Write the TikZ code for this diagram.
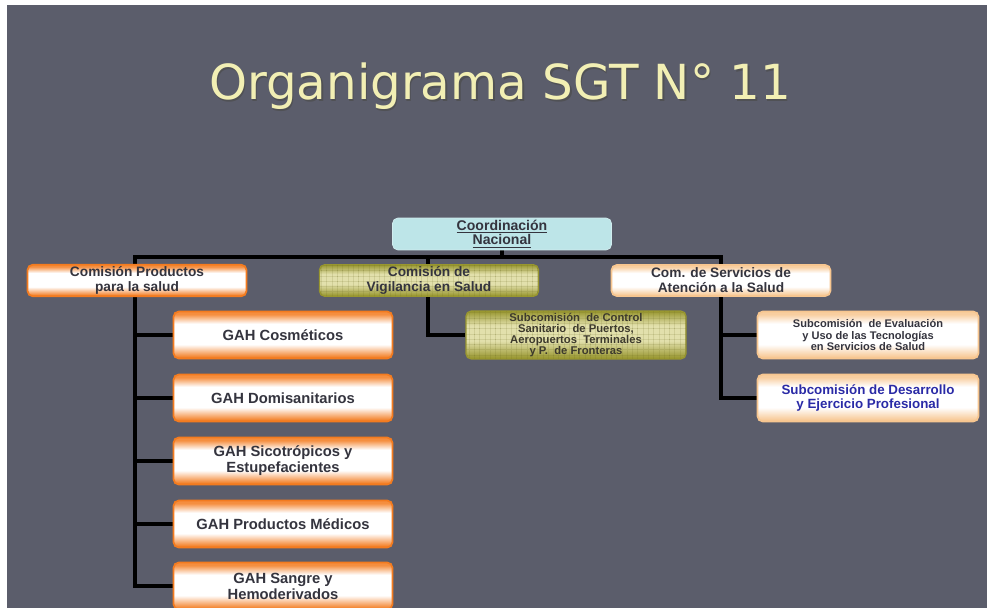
\documentclass[tikz,border=0pt]{standalone}
\usepackage{fontspec}
\setmainfont{Liberation Sans}
\newfontfamily\titlefont{DejaVu Sans}
\usepackage{xcolor}
\usetikzlibrary{positioning, calc, patterns}
\definecolor{slide}{HTML}{5B5D6B}
\definecolor{ttl}{HTML}{F2EFB4}
\definecolor{naranja}{HTML}{F37B1F}
\definecolor{durazno}{HTML}{F7C690}
\definecolor{oliva}{HTML}{999730}
\definecolor{olivaclaro}{HTML}{E2E0AC}
\definecolor{celeste}{HTML}{BDE5E8}
\definecolor{texto}{HTML}{34343E}
\definecolor{azul}{HTML}{2A2AA6}
\pgfdeclarelayer{fondo}
\pgfdeclarelayer{lineas}
\pgfsetlayers{fondo,lineas,main}
\pgfdeclareverticalshading{gah}{100bp}{color(0bp)=(naranja); color(26bp)=(naranja); color(40bp)=(white); color(62bp)=(white); color(72bp)=(naranja!85!white); color(100bp)=(naranja)}
\pgfdeclareverticalshading{peach}{100bp}{color(0bp)=(durazno); color(26bp)=(durazno); color(40bp)=(white); color(62bp)=(white); color(72bp)=(durazno!85!white); color(100bp)=(durazno)}
\pgfdeclareverticalshading{olive}{100bp}{color(0bp)=(oliva); color(26bp)=(oliva); color(44bp)=(olivaclaro); color(60bp)=(olivaclaro); color(75bp)=(oliva); color(100bp)=(oliva)}
\tikzset{
  caja/.style={rounded corners=3pt, align=center, inner sep=1pt, text=texto,
    minimum width=4.38cm, minimum height=0.62cm},
  comision/.style={caja, font=\bfseries\fontsize{7.8}{8.6}\selectfont},
  gahbox/.style={caja, shading=gah, draw=naranja, line width=1pt,
    minimum height=0.94cm, font=\bfseries\fontsize{8.4}{9.2}\selectfont},
  naranjo/.style={comision, shading=gah, draw=naranja, line width=1pt},
  palido/.style={shading=peach, draw=durazno, line width=1pt},
  verdoso/.style={shading=olive, draw=oliva, line width=0.8pt,
    postaction={pattern=grid, pattern color=oliva!70!black, opacity=0.15}},
  enlace/.style={line width=2pt, black}
}

\begin{document}
\begin{tikzpicture}[x=0.02cm, y=-0.02cm]
  \useasboundingbox (0,0) rectangle (987,608);
  \begin{pgfonlayer}{fondo}
    \fill[white] (0,0) rectangle (987,608);
    \fill[slide] (7,5) rectangle (987,608);
  \end{pgfonlayer}

  % titulo
  \node[font=\titlefont\fontsize{27.5}{28}\selectfont, text=black!70, opacity=0.7, anchor=base] (sombra) at (501.5,101.5) {Organigrama SGT N° 11};
  \node[font=\titlefont\fontsize{27.5}{28}\selectfont, text=ttl, anchor=base] (titulo) at (500,100) {Organigrama SGT N° 11};

  % primer nivel
  \node[caja, fill=celeste, draw=celeste!70!white, minimum height=0.6cm,
    font=\bfseries\fontsize{8}{8.2}\selectfont] (coord) at (502,234)
    {\underline{Coordinación}\\\underline{Nacional}};

  \node[naranjo] (prod) at (137,280.5) {Comisión Productos\\para la salud};
  \node[comision, verdoso] (vig) at (429,280.5) {Comisión de\\Vigilancia en Salud};
  \node[comision, palido] (serv) at (721,280.5) {Com. de Servicios de\\Atención a la Salud};

  % grupos ad hoc
  \node[gahbox] (gah1) at (283,335) {GAH Cosméticos};
  \node[gahbox] (gah2) at (283,398) {GAH Domisanitarios};
  \node[gahbox] (gah3) at (283,461) {GAH Sicotrópicos y\\Estupefacientes};
  \node[gahbox] (gah4) at (283,524) {GAH Productos Médicos};
  \node[gahbox] (gah5) at (283,586) {GAH Sangre y\\Hemoderivados};

  % subcomisiones
  \node[caja, verdoso, minimum width=4.4cm, minimum height=0.94cm,
    text=black!75!olive, font=\bfseries\fontsize{6.4}{6.4}\selectfont] (subctrl) at (576,335)
    {Subcomisión\ \ de Control\\Sanitario\ \ de Puertos,\\Aeropuertos\ \ Terminales\\y P.\ \ de Fronteras};
  \node[caja, palido, minimum width=4.42cm, minimum height=0.94cm,
    font=\bfseries\fontsize{6.3}{6.7}\selectfont] (subeval) at (868,335)
    {Subcomisión\ \ de Evaluación\\y Uso de las Tecnologías\\en Servicios de Salud};
  \node[caja, palido, minimum width=4.42cm, minimum height=0.94cm, text=azul,
    font=\bfseries\fontsize{7.6}{8.4}\selectfont] (subdes) at (868,398)
    {Subcomisión de Desarrollo\\y Ejercicio Profesional};

  \coordinate (bus) at (502,257);
  \coordinate (busIzq) at (135,257);
  \coordinate (busDer) at (721,257);
  \coordinate (busVig) at (428,257);

  \begin{pgfonlayer}{lineas}
    \draw[enlace] (coord.south) -- (bus);
    \draw[enlace] (gah5.west) -| (busIzq) -- (busDer) |- (subdes.west);
    \draw[enlace] (busVig) |- (subctrl.west);
    \foreach \g in {gah1,gah2,gah3,gah4}
      \draw[enlace] (\g.west) -- (\g.west -| busIzq);
    \draw[enlace] (subeval.west) -- (subeval.west -| busDer);
  \end{pgfonlayer}
\end{tikzpicture}
\end{document}
